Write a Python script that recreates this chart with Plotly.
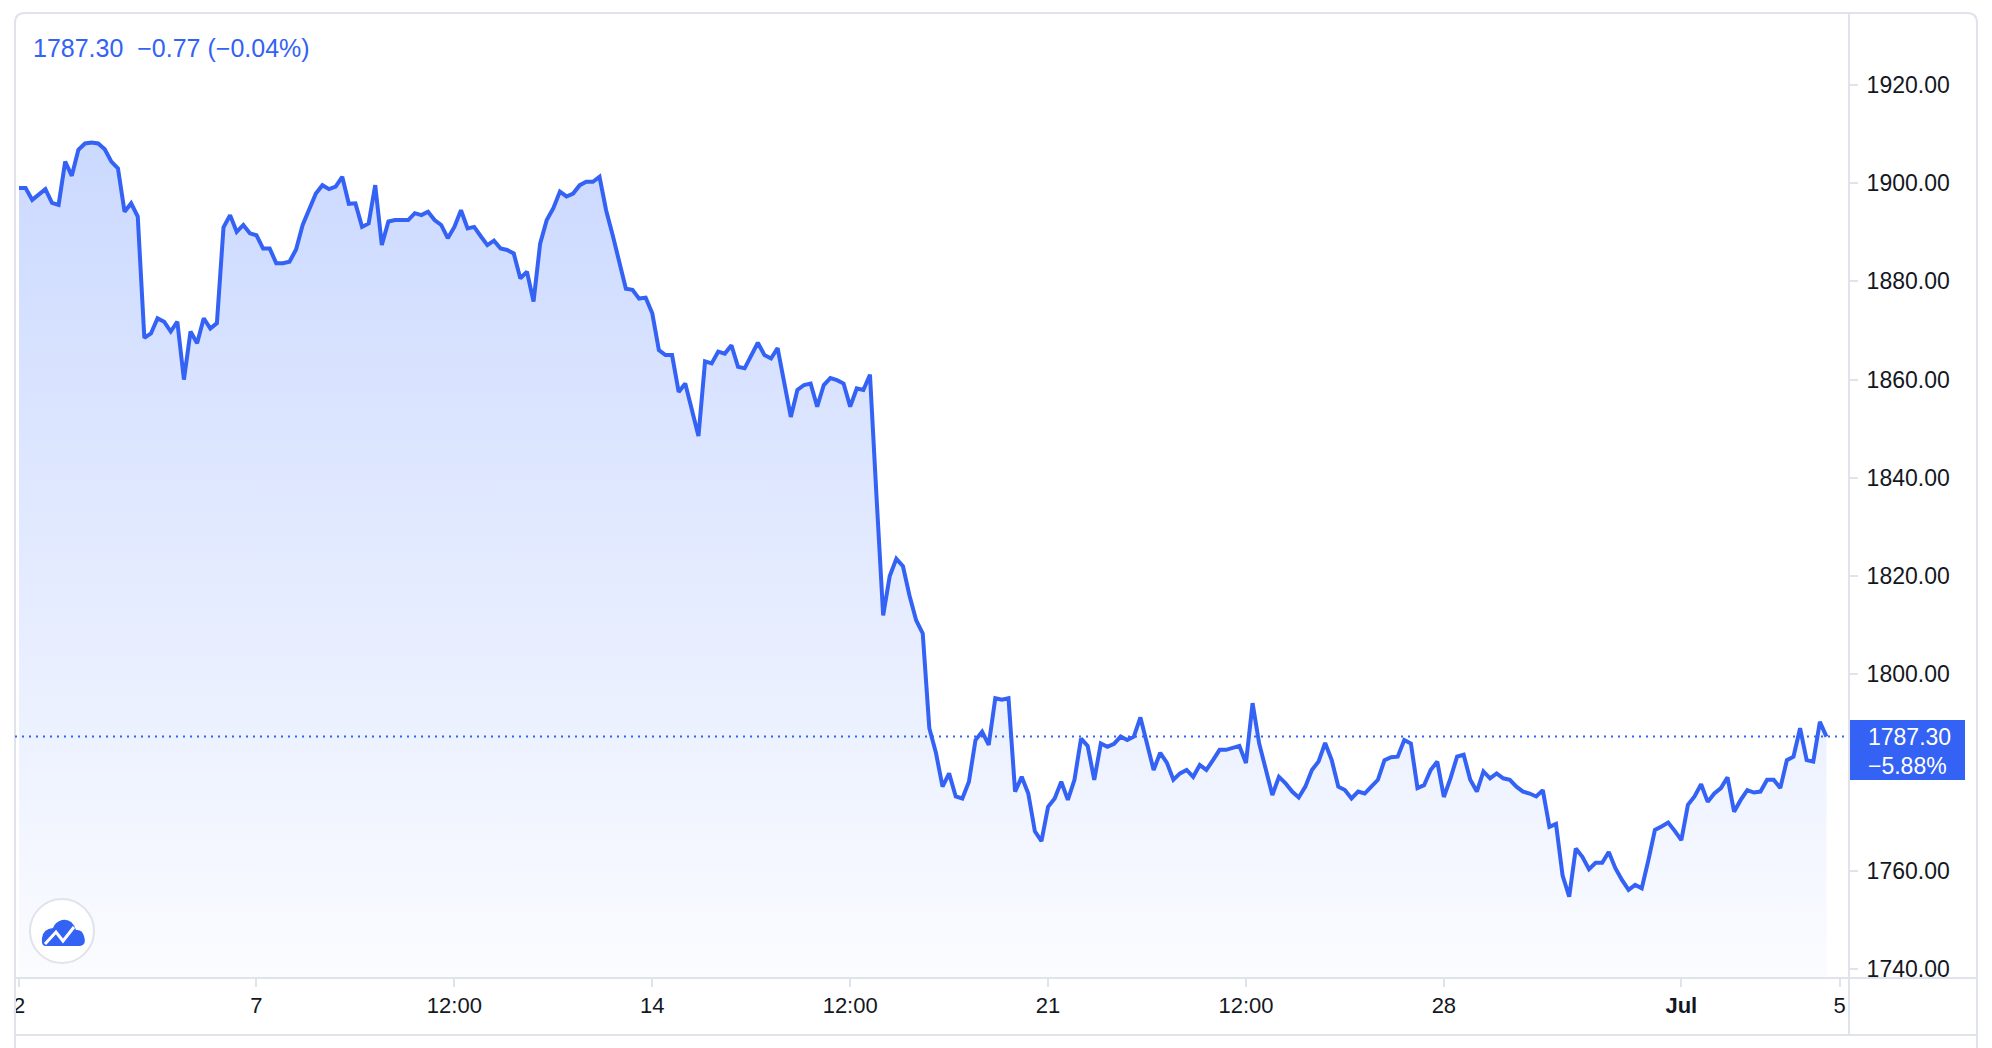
import pandas as pd
import plotly.graph_objects as go

# ---------------- data ----------------
trading_days = ["2021-06-02", "2021-06-03", "2021-06-04", "2021-06-07", "2021-06-08",
                "2021-06-09", "2021-06-10", "2021-06-11", "2021-06-14", "2021-06-15",
                "2021-06-16", "2021-06-17", "2021-06-18", "2021-06-21", "2021-06-22",
                "2021-06-23", "2021-06-24", "2021-06-25", "2021-06-28", "2021-06-29",
                "2021-06-30", "2021-07-01", "2021-07-02"]

# 2-hourly prices per trading day (00:00, 02:00, ... UTC)
d00 = [1899.0, 1899.0, 1896.6, 1897.6, 1898.8, 1896.0, 1895.6, 1904.4, 1901.5, 1906.8, 1908.1, 1908.3]
d01 = [1908.1, 1906.9, 1904.4, 1903.0, 1894.2, 1895.9, 1893.2, 1868.5, 1869.4, 1872.5, 1871.8, 1869.8]
d02 = [1871.8, 1860.0, 1869.8, 1867.4, 1872.5, 1870.4, 1871.5, 1891.0, 1893.5, 1890.1, 1891.5, 1889.8]
d03 = [1889.4, 1886.7, 1886.7, 1883.7, 1883.7, 1884.0, 1886.5, 1891.5, 1894.5, 1897.9, 1899.6, 1898.8]
d04 = [1899.3, 1901.3, 1895.8, 1895.9, 1891.1, 1891.8, 1899.6, 1887.4, 1892.2, 1892.5, 1892.5, 1892.5]
d05 = [1893.9, 1893.5, 1894.2, 1892.5, 1891.5, 1888.8, 1891.1, 1894.5, 1890.8, 1891.1, 1889.2, 1887.4]
d06 = [1888.3, 1886.7, 1886.4, 1885.7, 1880.6, 1882.0, 1875.9, 1887.7, 1892.5, 1894.9, 1898.3, 1897.3]
d07 = [1897.9, 1899.6, 1900.3, 1900.3, 1901.3, 1894.5, 1889.4, 1884.0, 1878.5, 1878.3, 1876.5, 1876.7]
d08 = [1873.5, 1866.0, 1865.0, 1865.0, 1857.5, 1859.2, 1854.2, 1848.5, 1863.7, 1863.3, 1865.7, 1865.3]
d09 = [1867.0, 1862.6, 1862.3, 1865.0, 1867.5, 1865.0, 1864.3, 1866.4, 1859.2, 1852.4, 1857.9, 1858.9]
d10 = [1859.2, 1854.5, 1858.9, 1860.3, 1859.9, 1859.2, 1854.5, 1858.2, 1857.9, 1861.0, 1836.0, 1812.0]
d11 = [1820.0, 1823.5, 1822.0, 1816.0, 1811.0, 1808.3, 1789.0, 1784.0, 1777.1, 1779.8, 1775.1, 1774.7]
d12 = [1778.1, 1786.6, 1788.3, 1785.6, 1795.1, 1794.8, 1795.1, 1776.1, 1779.1, 1775.7, 1768.0, 1766.0]
d13 = [1773.0, 1774.7, 1778.1, 1774.4, 1778.5, 1786.9, 1785.4, 1778.5, 1785.9, 1785.2, 1785.8, 1787.3]
d14 = [1786.6, 1787.3, 1791.2, 1785.6, 1780.5, 1784.0, 1782.0, 1778.5, 1779.8, 1780.5, 1779.1, 1781.5]
d15 = [1780.5, 1782.5, 1784.6, 1784.6, 1784.9, 1785.4, 1781.9, 1794.1, 1785.9, 1780.5, 1775.4, 1779.1]
d16 = [1777.8, 1776.1, 1774.9, 1777.1, 1780.5, 1782.2, 1786.0, 1782.5, 1777.1, 1776.4, 1774.7, 1776.1]
d17 = [1775.7, 1777.1, 1778.5, 1782.5, 1783.1, 1783.2, 1786.6, 1785.9, 1776.8, 1777.4, 1780.5, 1782.2]
d18 = [1775.0, 1778.8, 1783.2, 1783.6, 1778.5, 1776.1, 1780.2, 1778.8, 1779.8, 1778.8, 1778.5, 1777.1]
d19 = [1776.1, 1775.7, 1775.1, 1776.4, 1768.9, 1769.5, 1759.0, 1754.7, 1764.5, 1762.8, 1760.3, 1761.6]
d20 = [1761.6, 1763.8, 1760.5, 1758.1, 1756.1, 1757.1, 1756.4, 1762.1, 1768.3, 1769.0, 1769.8, 1768.1]
d21 = [1766.2, 1773.4, 1775.1, 1777.6, 1774.0, 1775.7, 1776.8, 1779.0, 1772.0, 1774.4, 1776.4, 1775.9]
d22 = [1776.1, 1778.5, 1778.5, 1776.8, 1782.5, 1783.2, 1789.0, 1782.5, 1782.2, 1790.3, 1787.3]

daily_prices = [d00, d01, d02, d03, d04, d05, d06, d07, d08, d09, d10, d11,
                d12, d13, d14, d15, d16, d17, d18, d19, d20, d21, d22]

last_price = 1787.30
header_text = "1787.30\u00a0\u00a0\u22120.77 (\u22120.04%)"
badge_price = "1787.30"
badge_change = "\u22125.88%"

y_tickvals = [1740, 1760, 1800, 1820, 1840, 1860, 1880, 1900, 1920]
x_tickvals = ["2021-06-02", "2021-06-07", "2021-06-09 12:00", "2021-06-14", "2021-06-16 12:00",
              "2021-06-21", "2021-06-23 12:00", "2021-06-28", "2021-07-01", "2021-07-05"]
x_ticktext = ["2", "7", "12:00", "14", "12:00", "21", "12:00", "28", "<b>Jul</b>", "5"]

# ---------------- build series ----------------
times, prices = [], []
for day, vals in zip(trading_days, daily_prices):
    base = pd.Timestamp(day)
    for i, v in enumerate(vals):
        times.append(base + pd.Timedelta(hours=2 * i))
        prices.append(v)

# ---------------- styling ----------------
W, H = 1992, 1048
L, R, T, B = 15, 143, 12, 70
PW, PH = W - L - R, H - T - B
BLUE = "#3362f5"
GRID = "#e0e3eb"
TXT = "#131722"
FONT = "Liberation Sans, Arial, sans-serif"


def px(x):
    return (x - L) / PW


def py(y):
    return (H - B - y) / PH


fig = go.Figure()
fig.add_trace(go.Scatter(
    x=times, y=prices, mode="lines",
    line=dict(color=BLUE, width=4),
    fill="tozeroy",
    fillgradient=dict(type="vertical",
                      colorscale=[[0, "rgba(41,98,255,0.02)"], [1, "rgba(41,98,255,0.27)"]],
                      start=1738, stop=1930),
    hoverinfo="skip", showlegend=False,
))

shapes = []
# card border (rounded top corners)
r = 10
shapes.append(dict(
    type="path", xref="paper", yref="paper", layer="above",
    path=(f"M {px(15)},{py(1060)} L {px(15)},{py(13 + r)} Q {px(15)},{py(13)} {px(15 + r)},{py(13)} "
          f"L {px(1977 - r)},{py(13)} Q {px(1977)},{py(13)} {px(1977)},{py(13 + r)} L {px(1977)},{py(1060)}"),
    line=dict(color=GRID, width=2)))
# time-axis top & bottom lines, price-axis line
shapes.append(dict(type="line", xref="paper", yref="paper", x0=px(15), x1=px(1977), y0=py(978), y1=py(978),
                   line=dict(color=GRID, width=2)))
shapes.append(dict(type="line", xref="paper", yref="paper", x0=px(15), x1=px(1977), y0=py(1035), y1=py(1035),
                   line=dict(color=GRID, width=2)))
shapes.append(dict(type="line", xref="paper", yref="paper", x0=px(1849), x1=px(1849), y0=py(12), y1=py(1035),
                   line=dict(color=GRID, width=2)))
# last price dotted line
shapes.append(dict(type="line", xref="paper", yref="y", x0=0, x1=1, y0=last_price, y1=last_price,
                   line=dict(color=BLUE, width=2, dash="2px,5px")))
# price badge
shapes.append(dict(type="rect", xref="paper", yref="paper", x0=px(1850), x1=px(1965), y0=py(720), y1=py(780),
                   fillcolor=BLUE, line=dict(width=0)))
# logo
shapes.append(dict(type="circle", xref="paper", yref="paper", x0=px(30), x1=px(94), y0=py(963), y1=py(899),
                   fillcolor="white", line=dict(color=GRID, width=2)))
shapes.append(dict(
    type="path", xref="paper", yref="paper",
    path=(f"M {px(45)},{py(946)} L {px(80)},{py(946)} Q {px(87)},{py(945)} {px(84)},{py(936)} "
          f"Q {px(82)},{py(929)} {px(76)},{py(930)} Q {px(72)},{py(918)} {px(62)},{py(920)} "
          f"Q {px(55)},{py(922)} {px(53)},{py(928)} Q {px(43)},{py(929)} {px(42)},{py(938)} "
          f"Q {px(41)},{py(945)} {px(45)},{py(946)} Z"),
    fillcolor=BLUE, line=dict(width=0)))
shapes.append(dict(
    type="path", xref="paper", yref="paper",
    path=f"M {px(45)},{py(944)} L {px(56)},{py(932)} L {px(63)},{py(941)} L {px(74)},{py(927)}",
    line=dict(color="white", width=3)))

annotations = [
    dict(text=header_text, xref="paper", yref="paper", x=px(31), y=py(48), xanchor="left", yanchor="middle",
         showarrow=False, font=dict(family=FONT, size=25, color=BLUE)),
    dict(text=badge_price, xref="paper", yref="paper", x=px(1866), y=py(737), xanchor="left", yanchor="middle",
         showarrow=False, font=dict(family=FONT, size=23, color="white")),
    dict(text=badge_change, xref="paper", yref="paper", x=px(1866), y=py(766), xanchor="left", yanchor="middle",
         showarrow=False, font=dict(family=FONT, size=23, color="white")),
]

fig.update_layout(
    width=W, height=H,
    margin=dict(l=L, r=R, t=T, b=B, pad=0),
    paper_bgcolor="white", plot_bgcolor="white",
    shapes=shapes, annotations=annotations,
    showlegend=False,
    xaxis=dict(
        type="date",
        rangebreaks=[dict(bounds=["sat", "mon"])],
        range=["2021-06-01 22:47", "2021-07-05 02:50"],
        tickvals=x_tickvals, ticktext=x_ticktext,
        ticks="outside", ticklen=8, tickcolor=GRID, tickwidth=2,
        showgrid=False, zeroline=False, showline=False,
        tickfont=dict(family=FONT, size=22, color=TXT),
        fixedrange=True,
    ),
    yaxis=dict(
        side="right",
        range=[1738.13, 1934.87],
        tickvals=y_tickvals, tickformat=".2f",
        ticks="outside", ticklen=8, tickcolor=GRID, tickwidth=2,
        showgrid=False, zeroline=False, showline=False,
        tickfont=dict(family=FONT, size=23, color=TXT),
        ticklabelstandoff=4,
        fixedrange=True,
    ),
)

fig.write_html("out.html", config=dict(displayModeBar=False),
               post_script="document.body.style.margin='0';document.body.style.overflow='hidden';")
